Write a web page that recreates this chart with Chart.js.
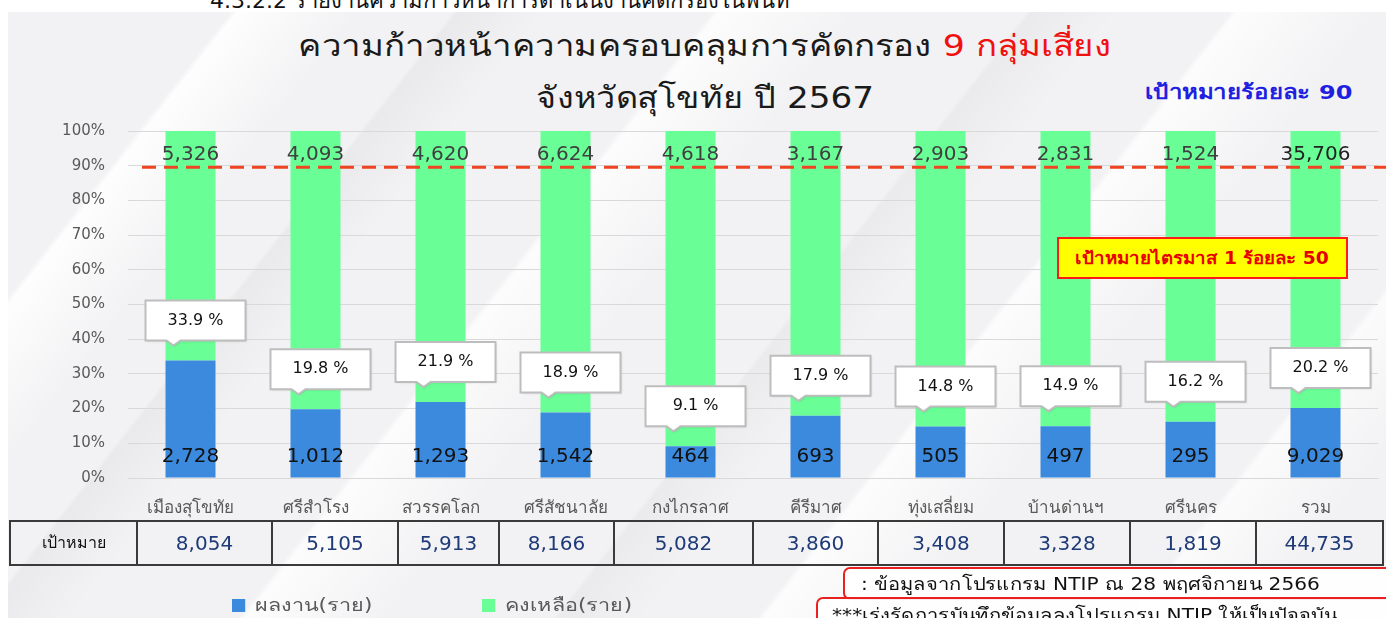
<!DOCTYPE html>
<html>
<head>
<meta charset="utf-8">
<script src="https://cdn.jsdelivr.net/npm/chart.js@4"></script>
<style>
  body { margin: 0; width: 1386px; height: 618px; overflow: hidden; background: #fff; font-family: Tahoma, "DejaVu Sans", sans-serif; position: relative; }
  .panel { position: absolute; left: 8px; top: 12px; width: 1378px; height: 606px; background-color: #f2f2f4;
    background-image:
      linear-gradient(128deg, rgba(255,255,255,0) 12%, rgba(255,255,255,.9) 12.4%, rgba(255,255,255,0) 19%),
      linear-gradient(128deg, rgba(0,0,0,0) 24%, rgba(0,0,0,.035) 24.3%, rgba(0,0,0,0) 29%),
      linear-gradient(128deg, rgba(255,255,255,0) 38%, rgba(255,255,255,.8) 38.4%, rgba(255,255,255,0) 46%),
      linear-gradient(128deg, rgba(0,0,0,0) 55%, rgba(0,0,0,.03) 55.3%, rgba(0,0,0,0) 60%),
      linear-gradient(128deg, rgba(255,255,255,0) 66%, rgba(255,255,255,.8) 66.4%, rgba(255,255,255,0) 74%),
      linear-gradient(128deg, rgba(255,255,255,0) 86%, rgba(255,255,255,.7) 86.4%, rgba(255,255,255,0) 93%); }
  .abs { position: absolute; white-space: nowrap; }
  #topcut { left: 210px; top: -17px; font-size: 22px; color: #111; }
  #title1 { left: 0; width: 1410px; top: 22px; text-align: center; font-size: 30px; color: #1a1a1a; transform: scaleX(1.16); }
  #title2 { left: 0; width: 1410px; top: 74px; text-align: center; font-size: 30px; color: #1a1a1a; transform: scaleX(1.14); }
  #goal { left: 1145px; top: 76px; font-size: 20px; color: #1f1fe0; font-weight: bold; transform: scaleX(1.2); transform-origin: left center; }
  #q1box { left: 1057px; top: 237px; width: 287px; height: 38px; background: #ffff00; border: 2px solid #ff1a1a;
    color: #e60000; font-weight: bold; font-size: 17px; text-align: center; line-height: 38px; }
  #q1box span { display: inline-block; transform: scaleX(1.1); }
  canvas { position: absolute; left: 0; top: 0; }
  #tbl { position: absolute; left: 0; top: 520px; width: 1386px; height: 46px; }
  .cell { position: absolute; top: 0; height: 42px; border: 2px solid #3a3a3a; border-right: none; text-align: center; line-height: 42px; font-size: 20px; color: #1f3a78; }
  .cell.head { font-size: 16px; color: #111; }
  .legend { position: absolute; top: 590px; font-size: 18px; color: #595959; transform: scaleX(1.2); transform-origin: left center; }
  .legend span { display: inline-block; width: 11px; height: 13px; margin-right: 8px; vertical-align: -1px; }
  .note { position: absolute; background: rgba(255,255,255,.9); border: 2px solid #e82020; border-radius: 7px; font-size: 18px; color: #111; }
  .note span { display: inline-block; transform: scaleX(1.12); transform-origin: left center; }
</style>
</head>
<body>
<div class="panel"></div>
<div class="abs" id="topcut">4.3.2.2 รายงานความก้าวหน้าการดำเนินงานคัดกรองในพื้นที่</div>
<div class="abs" id="title1">ความก้าวหน้าความครอบคลุมการคัดกรอง <span style="color:#f01010">9 กลุ่มเสี่ยง</span></div>
<div class="abs" id="title2">จังหวัดสุโขทัย ปี 2567</div>
<div class="abs" id="goal">เป้าหมายร้อยละ 90</div>
<canvas id="chart" width="1386" height="618"></canvas>
<div class="abs" id="q1box"><span>เป้าหมายไตรมาส 1 ร้อยละ 50</span></div>
<div id="tbl"></div>
<div class="legend" style="left:232px"><span style="background:#3b8ade"></span>ผลงาน(ราย)</div>
<div class="legend" style="left:482px"><span style="background:#69ff96"></span>คงเหลือ(ราย)</div>
<div class="note" style="left:843px; top:567px; width:560px; height:29px; line-height:29px; padding-left:16px;"><span>: ข้อมูลจากโปรแกรม NTIP ณ 28 พฤศจิกายน 2566</span></div>
<div class="note" style="left:816px; top:597px; width:600px; height:40px; padding-left:14px; line-height:32px;"><span>***เร่งรัดการบันทึกข้อมูลลงโปรแกรม NTIP ให้เป็นปัจจุบัน</span></div>

<script>
// data
const districts = ['เมืองสุโขทัย', 'ศรีสำโรง', 'สวรรคโลก', 'ศรีสัชนาลัย', 'กงไกรลาศ', 'คีรีมาศ', 'ทุ่งเสลี่ยม', 'บ้านด่านฯ', 'ศรีนคร', 'รวม'];
const screened = [2728, 1012, 1293, 1542, 464, 693, 505, 497, 295, 9029];
const remaining = [5326, 4093, 4620, 6624, 4618, 3167, 2903, 2831, 1524, 35706];
const targets = [8054, 5105, 5913, 8166, 5082, 3860, 3408, 3328, 1819, 44735];
const coverage = [33.9, 19.8, 21.9, 18.9, 9.1, 17.9, 14.8, 14.9, 16.2, 20.2];
const targetPct = 90;

const fmt = n => n.toLocaleString('en-US');
const FONT = 'Tahoma, "DejaVu Sans", sans-serif';

// table under the chart (cell edges as in the picture)
const cellEdges = [9, 136, 271, 397, 498, 613, 752, 877, 1003, 1129, 1255, 1382];
const tbl = document.getElementById('tbl');
['เป้าหมาย', ...targets.map(fmt)].forEach((txt, i) => {
  const d = document.createElement('div');
  d.className = 'cell' + (i === 0 ? ' head' : '');
  d.style.left = cellEdges[i] + 'px';
  d.style.width = (cellEdges[i + 1] - cellEdges[i] - 2) + 'px';
  if (i === cellEdges.length - 2) d.style.borderRight = '2px solid #3a3a3a';
  d.textContent = txt;
  tbl.appendChild(d);
});

const labelsPlugin = {
  id: 'labels',
  afterDatasetsDraw(chart) {
    const ctx = chart.ctx;
    const x = chart.scales.x, y = chart.scales.y;
    const area = chart.chartArea;
    ctx.save();
    // target line 90%
    const ty = y.getPixelForValue(targetPct) + 1.5;
    ctx.strokeStyle = '#ee4422';
    ctx.lineWidth = 3;
    ctx.setLineDash([14, 8]);
    ctx.beginPath();
    ctx.moveTo(area.left + 14, ty);
    ctx.lineTo(chart.width, ty);
    ctx.stroke();
    ctx.setLineDash([]);

    ctx.textAlign = 'center';
    ctx.textBaseline = 'middle';
    districts.forEach((d, i) => {
      const cx = x.getPixelForValue(i);
      // remaining on top
      ctx.fillStyle = i === districts.length - 1 ? '#222' : '#404040';
      ctx.font = '20px ' + FONT;
      ctx.fillText(fmt(remaining[i]), cx, y.getPixelForValue(100) + 24);
      // screened at base
      ctx.fillStyle = '#111';
      ctx.font = '20px ' + FONT;
      ctx.fillText(fmt(screened[i]), cx, y.getPixelForValue(0) - 21);

      // callout
      const top = y.getPixelForValue(screened[i] / targets[i] * 100);
      const bw = 100, bh = 40;
      const bx = cx - 45, by = top - 20 - bh;
      ctx.shadowColor = 'rgba(0,0,0,0.15)';
      ctx.shadowBlur = 2;
      ctx.shadowOffsetX = 1;
      ctx.shadowOffsetY = 1;
      ctx.fillStyle = '#fff';
      ctx.strokeStyle = '#bdbdbd';
      ctx.lineWidth = 2;
      ctx.beginPath();
      ctx.moveTo(bx, by);
      ctx.lineTo(bx + bw, by);
      ctx.lineTo(bx + bw, by + bh);
      ctx.lineTo(bx + 35, by + bh);
      ctx.lineTo(bx + 28, by + bh + 5);
      ctx.lineTo(bx + 21, by + bh);
      ctx.lineTo(bx, by + bh);
      ctx.closePath();
      ctx.fill();
      ctx.shadowColor = 'transparent';
      ctx.stroke();
      ctx.fillStyle = '#111';
      ctx.font = '16px ' + FONT;
      ctx.fillText(coverage[i].toFixed(1) + ' %', bx + bw / 2, by + bh / 2);
    });
    ctx.restore();
  }
};

new Chart(document.getElementById('chart'), {
  type: 'bar',
  data: {
    labels: districts,
    datasets: [
      {
        label: 'ผลงาน(ราย)',
        data: screened.map((v, i) => v / targets[i] * 100),
        backgroundColor: '#3b8ade',
        barPercentage: 0.4,
        categoryPercentage: 1
      },
      {
        label: 'คงเหลือ(ราย)',
        data: remaining.map((v, i) => v / targets[i] * 100),
        backgroundColor: '#69ff96',
        barPercentage: 0.4,
        categoryPercentage: 1
      }
    ]
  },
  options: {
    responsive: false,
    animation: false,
    layout: { padding: { left: 0, top: 131, right: 8, bottom: 98 } },
    plugins: { legend: { display: false }, tooltip: { enabled: false } },
    scales: {
      x: {
        stacked: true,
        afterFit: s => { s.height = 42; },
        grid: { display: false },
        border: { color: '#d9d9d9' },
        ticks: { color: '#595959', font: { size: 17, family: FONT }, padding: 12, autoSkip: false, maxRotation: 0 }
      },
      y: {
        stacked: true,
        min: 0,
        max: 100,
        afterFit: s => { s.width = 128; },
        border: { display: false },
        grid: { color: '#d9d9d9', drawTicks: false },
        ticks: { stepSize: 10, color: '#595959', font: { size: 15, family: FONT }, padding: 23, callback: v => v + '%' }
      }
    }
  },
  plugins: [labelsPlugin]
});
</script>
</body>
</html>
